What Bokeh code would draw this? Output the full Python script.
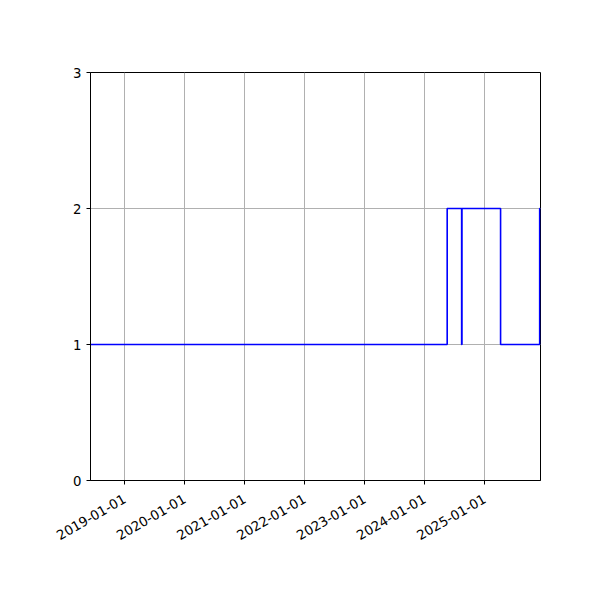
import math
import pandas as pd
from bokeh.plotting import figure
from bokeh.models import FixedTicker, DatetimeTickFormatter, Range1d
from bokeh.embed import file_html
from bokeh.resources import INLINE

# step change points (value holds until next date)
change_dates = ["2018-06-08", "2024-05-18", "2024-08-14", "2024-08-16",
                "2025-04-08", "2025-12-02", "2025-12-07"]
change_values = [1, 2, 1, 2, 1, 2, 2]

tick_dates = ["2019-01-01", "2020-01-01", "2021-01-01", "2022-01-01",
              "2023-01-01", "2024-01-01", "2025-01-01"]
y_ticks = [0, 1, 2, 3]

x = pd.to_datetime(change_dates)
x_start = pd.Timestamp("2018-06-08")
x_end = pd.Timestamp("2025-12-07")

p = figure(width=592, height=592, x_axis_type="datetime",
           output_backend="svg", toolbar_location=None,
           x_range=Range1d(x_start, x_end), y_range=Range1d(0, 3),
           min_border_left=90, min_border_right=52,
           min_border_top=72, min_border_bottom=112)

p.step(x, change_values, mode="after", line_color="blue", line_width=1.6)

tick_ms = [pd.Timestamp(d).value // 10**6 for d in tick_dates]
p.xaxis.ticker = FixedTicker(ticks=tick_ms)
fmt = "%Y-%m-%d"
p.xaxis.formatter = DatetimeTickFormatter(years=fmt, months=fmt, days=fmt,
                                          hours=fmt, minutes=fmt)
p.xaxis.major_label_orientation = math.pi / 6
p.xaxis.major_label_standoff = 13
p.yaxis.ticker = FixedTicker(ticks=y_ticks)

for ax in (p.xaxis, p.yaxis):
    ax.axis_line_color = "black"
    ax.major_tick_line_color = "black"
    ax.major_tick_in = 0
    ax.major_tick_out = 4
    ax.minor_tick_line_color = None
    ax.major_label_text_font = "DejaVu Sans"
    ax.major_label_text_font_size = "13.3px"
    ax.major_label_text_color = "black"

p.grid.grid_line_color = "#b0b0b0"
p.grid.grid_line_width = 1
p.outline_line_color = "black"
p.outline_line_alpha = 1
p.outline_line_width = 1
p.background_fill_color = "white"
p.border_fill_color = "white"

open("out.html", "w").write(file_html(p, INLINE))
